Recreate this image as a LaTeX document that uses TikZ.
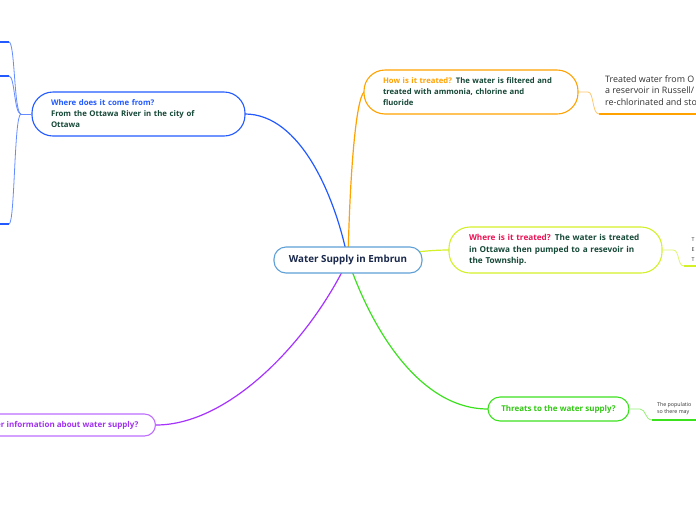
\documentclass[tikz,border=0pt]{standalone}
\usepackage{fontspec}
\setmainfont{Open Sans}
\definecolor{cblue}{RGB}{35,90,255}
\definecolor{cbluel}{RGB}{100,140,255}
\definecolor{cdark}{RGB}{22,72,56}
\definecolor{corange}{RGB}{255,162,0}
\definecolor{corangel}{RGB}{255,200,110}
\definecolor{ccrimson}{RGB}{235,20,85}
\definecolor{cyellow}{RGB}{212,240,40}
\definecolor{cyellowl}{RGB}{225,245,110}
\definecolor{cgreen}{RGB}{60,225,30}
\definecolor{cgreent}{RGB}{50,200,20}
\definecolor{cgreenl}{RGB}{150,240,120}
\definecolor{cpurple}{RGB}{165,50,255}
\definecolor{cpurpleb}{RGB}{190,110,255}
\definecolor{cpurplet}{RGB}{160,50,240}
\definecolor{croot}{RGB}{95,160,215}
\definecolor{croottext}{RGB}{25,40,75}
\definecolor{cgray}{RGB}{50,50,50}
\begin{document}
\begin{tikzpicture}[x=1pt,y=-1pt,
  topic/.style={draw, line width=1.1pt, fill=white, rounded corners=21pt, inner ysep=0pt},
  mtext/.style={font={\fontsize{7.8}{11}\selectfont\bfseries}, align=left, text=cdark},
  conn/.style={line width=1.2pt},
  sub/.style={line width=0.8pt},
  uline/.style={line width=1.4pt},
  small/.style={font={\fontsize{5.3}{7}\selectfont}, text=cgray, align=left, inner sep=0pt, anchor=west}]
\useasboundingbox (0,0) rectangle (696,520);
\clip (0,0) rectangle (696,520);
\fill[white] (0,0) rectangle (696,520);
\coordinate (root) at (348,260);
\coordinate (whereE) at (245,114);
\coordinate (howW) at (364,92);
\coordinate (treatW) at (449,250);
\coordinate (threatW) at (488,409);
\coordinate (otherE) at (156,425);
% main connectors
\draw[conn, cblue] (root) .. controls (335,195) and (300,114) .. (whereE);
\draw[conn, corange] (root) .. controls (350,170) and (356,100) .. (howW);
\draw[conn, cyellow] (root) .. controls (400,255) and (420,250) .. (treatW);
\draw[conn, cgreen] (root) .. controls (372,330) and (420,409) .. (threatW);
\draw[conn, cpurple] (root) .. controls (310,340) and (230,425) .. (otherE);
% topics
\node[topic, draw=croot, rounded corners=12pt, minimum width=148pt, minimum height=26pt, font={\fontsize{9.8}{11}\selectfont\bfseries}, text=croottext] (main) at (348,260) {Water Supply in Embrun};
\node[topic, draw=cblue, minimum width=213pt, minimum height=44pt, mtext, text width=175pt, inner xsep=19pt] (where) at (138.5,114) {\textcolor{cblue}{Where does it come from?}\\From the Ottawa River in the city of\\Ottawa};
\node[topic, draw=corange, minimum width=214pt, minimum height=44pt, mtext, font={\fontsize{7.7}{11}\selectfont\bfseries}, text width=176pt, inner xsep=19pt] (how) at (471,92) {\textcolor{corange}{How is it treated?} The water is filtered and\\treated with ammonia, chlorine and\\fluoride};
\node[topic, draw=cyellow, minimum width=213pt, minimum height=46pt, font={\fontsize{8.2}{11.5}\selectfont\bfseries}, align=left, text=cdark, text width=173pt, inner xsep=20pt] (treat) at (555.5,250) {\textcolor{ccrimson}{Where is it treated?} The water is treated\\in Ottawa then pumped to a resevoir in\\the Township.};
\node[topic, draw=cgreen, rounded corners=12pt, minimum width=141pt, minimum height=24pt, font={\fontsize{8}{11}\selectfont\bfseries}, text=cgreent] (threat) at (558.5,409) {Threats to the water supply?};
\node[topic, draw=cpurpleb, rounded corners=11pt, minimum height=22pt, font={\fontsize{8}{11}\selectfont\bfseries}, text=cpurplet, inner xsep=17pt, anchor=east] (other) at (156,425) {Other information about water supply?};
% blue subtopics
\coordinate (jn) at (21,114);
\coordinate (b1) at (9,42);
\coordinate (b2) at (9,76);
\coordinate (b3) at (9,224);
\coordinate (b1w) at (-4,42);
\coordinate (b2w) at (-4,76);
\coordinate (b3w) at (-4,224);
\draw[sub, cbluel] (where.west) -- (jn);
\draw[sub, cbluel] (jn) .. controls (14,114) and (15,42) .. (b1);
\draw[sub, cbluel] (jn) .. controls (14,114) and (15,76) .. (b2);
\draw[sub, cbluel] (jn) .. controls (14,114) and (15,224) .. (b3);
\draw[uline, cblue] (b1) -- (b1w);
\draw[uline, cblue] (b2) -- (b2w);
\draw[uline, cblue] (b3) -- (b3w);
% orange subtopic
\coordinate (o1) at (588,92);
\coordinate (o2) at (599,114);
\coordinate (o3) at (700,114);
\draw[sub, corangel] (how.east) -- (o1) .. controls (594,92) and (592,114) .. (o2);
\draw[uline, corange] (o2) -- (o3);
\node[font={\fontsize{8.9}{11.5}\selectfont}, text=cgray, align=left, anchor=north west, inner sep=0pt] (otext) at (605,75) {Treated water from O\\a reservoir in Russell/\\re-chlorinated and sto};
% yellow subtopic
\coordinate (y1) at (673,250);
\coordinate (y2) at (684,266);
\coordinate (y3) at (700,266);
\draw[sub, cyellowl] (treat.east) -- (y1) .. controls (680,250) and (677,266) .. (y2);
\draw[uline, cyellow] (y2) -- (y3);
\node[small] (yt1) at (691.5,240) {T};
\node[small] (yt2) at (691.5,250) {E};
\node[small] (yt3) at (691.5,259.5) {T};
% green subtopic
\coordinate (g1) at (640,409);
\coordinate (g2) at (652,420);
\coordinate (g3) at (700,420);
\draw[sub, cgreenl] (threat.east) -- (g1) .. controls (646,409) and (645,420) .. (g2);
\draw[uline, cgreen] (g2) -- (g3);
\node[small] (gt1) at (657,405) {The populatio};
\node[small] (gt2) at (657,412.5) {so there may};
\end{tikzpicture}
\end{document}
